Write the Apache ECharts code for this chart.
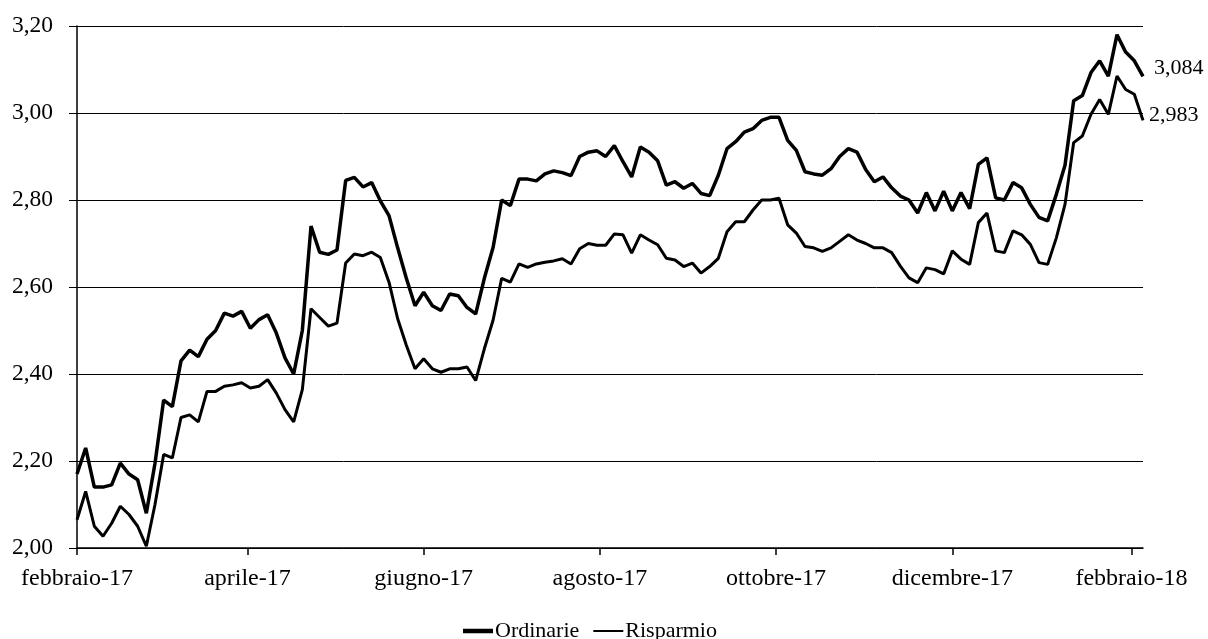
<!DOCTYPE html>
<html>
<head>
<meta charset="utf-8">
<script src="https://cdn.jsdelivr.net/npm/echarts@6/dist/echarts.min.js"></script>
<style>
  html, body { margin: 0; padding: 0; background: #fff; }
  #chart { width: 1208px; height: 639px; }
</style>
</head>
<body>
<div id="chart"></div>
<script>
// valori letti ogni 3 giorni, dal 1 febbraio 2017
const startDate = '2017-02-01'
const stepDays = 3

const ordinarie = [
  2.17, 2.23, 2.14, 2.14, 2.145, 2.195, 2.17, 2.157, 2.08, 2.195,
  2.34, 2.325, 2.43, 2.455, 2.44, 2.48, 2.50, 2.54, 2.533, 2.544,
  2.505, 2.525, 2.536, 2.494, 2.437, 2.40, 2.50, 2.74, 2.68, 2.675,
  2.685, 2.845, 2.852, 2.83, 2.84, 2.798, 2.764, 2.69, 2.62, 2.557,
  2.588, 2.557, 2.546, 2.584, 2.58, 2.553, 2.538, 2.62, 2.69, 2.80,
  2.787, 2.848, 2.848, 2.844, 2.86, 2.867, 2.863, 2.856, 2.90, 2.91,
  2.913, 2.90, 2.925, 2.888, 2.853, 2.922, 2.91, 2.89, 2.834, 2.842,
  2.827, 2.838, 2.815, 2.81, 2.857, 2.918, 2.934, 2.956, 2.964, 2.983,
  2.99, 2.99, 2.937, 2.914, 2.865, 2.86, 2.857, 2.872, 2.90, 2.918,
  2.91, 2.87, 2.842, 2.853, 2.828, 2.809, 2.80, 2.77, 2.817, 2.775,
  2.82, 2.775, 2.817, 2.78, 2.882, 2.897, 2.805, 2.80, 2.84, 2.828,
  2.79, 2.76, 2.752, 2.813, 2.88, 3.028, 3.04, 3.093, 3.12, 3.085,
  3.18, 3.14, 3.12, 3.084
]

const risparmio = [
  2.065, 2.13, 2.05, 2.027, 2.057, 2.096, 2.077, 2.05, 2.004, 2.10,
  2.215, 2.207, 2.30, 2.306, 2.29, 2.36, 2.36, 2.372, 2.375, 2.38,
  2.368, 2.372, 2.387, 2.356, 2.318, 2.29, 2.364, 2.55, 2.53, 2.51,
  2.517, 2.655, 2.676, 2.672, 2.68, 2.668, 2.611, 2.527, 2.466, 2.412,
  2.435, 2.412, 2.404, 2.412, 2.412, 2.416, 2.385, 2.458, 2.523, 2.62,
  2.611, 2.653, 2.645, 2.653, 2.657, 2.66, 2.665, 2.653, 2.688, 2.70,
  2.696, 2.696, 2.722, 2.72, 2.678, 2.72, 2.708, 2.697, 2.666, 2.662,
  2.647, 2.655, 2.632, 2.647, 2.666, 2.727, 2.75, 2.75, 2.777, 2.80,
  2.80, 2.804, 2.743, 2.724, 2.693, 2.69, 2.682, 2.69, 2.705, 2.72,
  2.708, 2.70, 2.69, 2.69, 2.679, 2.648, 2.621, 2.61, 2.644, 2.64,
  2.63, 2.683, 2.664, 2.652, 2.748, 2.77, 2.683, 2.679, 2.729, 2.72,
  2.698, 2.656, 2.652, 2.713, 2.79, 2.932, 2.947, 2.997, 3.031, 2.997,
  3.085, 3.054, 3.043, 2.983
]

const tickDates = ['2017-02-01', '2017-04-01', '2017-06-01', '2017-08-01', '2017-10-01', '2017-12-01', '2018-02-01']
const tickLabels = ['febbraio-17', 'aprile-17', 'giugno-17', 'agosto-17', 'ottobre-17', 'dicembre-17', 'febbraio-18']
const axisMax = '2018-02-05'

// giorni trascorsi dal 1 febbraio 2017
function dayOf(s) {
  let p = s.split('-')
  let t = Date.UTC(+p[0], +p[1] - 1, +p[2]) - Date.UTC(2017, 1, 1)
  return Math.round(t / 86400000)
}

// trattino della legenda, spesso quanto la linea
function legendDash(h) {
  let y = (15 - h) / 2
  return 'path://M0,0h0.05v0.05h-0.05z M0,' + y + 'h30v' + h + 'h-30z M29.95,14.95h0.05v0.05h-0.05z'
}

;(function () {
  let chart = echarts.init(document.getElementById('chart'))
  let font = 'Liberation Serif'
  let tickDays = tickDates.map(dayOf)
  let start = dayOf(startDate)
  let days = ordinarie.map((v, i) => start + i * stepDays)
  let endLabel = (dx, dy) => ({
    show: true,
    color: '#000',
    fontFamily: font,
    fontSize: 22,
    distance: 0,
    offset: [dx, dy],
    formatter: (p) => p.value[1].toFixed(3).replace('.', ','),
  })

  let option = {
    animation: false,
    grid: {
      left: 77,
      right: 65,
      top: 26,
      bottom: 91,
    },
    legend: {
      left: 458,
      top: 615,
      itemWidth: 30,
      itemHeight: 15,
      itemGap: 14,
      textStyle: { fontFamily: font, fontSize: 22, color: '#000', padding: [0, 0, 0, -3] },
      data: [
        { name: 'Ordinarie', icon: legendDash(4.5) },
        { name: 'Risparmio', icon: legendDash(2) },
      ],
    },
    xAxis: {
      type: 'value',
      min: 0,
      max: dayOf(axisMax),
      axisLine: { lineStyle: { color: '#000', width: 1.5 } },
      axisTick: {
        customValues: tickDays,
        length: 7,
        lineStyle: { color: '#000', width: 1.5 },
      },
      axisLabel: {
        customValues: tickDays,
        margin: 19,
        fontFamily: font,
        fontSize: 24,
        color: '#000',
        formatter: (v) => {
          let k = tickDays.indexOf(v)
          return k >= 0 ? tickLabels[k] : ''
        },
      },
      splitLine: { show: false },
    },
    yAxis: {
      type: 'value',
      min: 2,
      max: 3.2,
      interval: 0.2,
      axisLine: { show: true, lineStyle: { color: '#000', width: 1.5 } },
      axisTick: { show: true, length: 8, lineStyle: { color: '#000' } },
      axisLabel: {
        margin: 24,
        fontFamily: font,
        fontSize: 23.5,
        color: '#000',
        formatter: (v) => v.toFixed(2).replace('.', ','),
      },
      splitLine: { lineStyle: { color: '#000', width: 1 } },
    },
    series: [
      {
        name: 'Ordinarie',
        type: 'line',
        symbol: 'none',
        color: '#000',
        lineStyle: { color: '#000', width: 3.5 },
        data: ordinarie.map((v, i) => [days[i], v]),
        endLabel: endLabel(11, -8),
      },
      {
        name: 'Risparmio',
        type: 'line',
        symbol: 'none',
        color: '#000',
        lineStyle: { color: '#000', width: 3 },
        data: risparmio.map((v, i) => [days[i], v]),
        endLabel: endLabel(6, -5),
      },
    ],
  }
  chart.setOption(option)
})()
</script>
</body>
</html>
